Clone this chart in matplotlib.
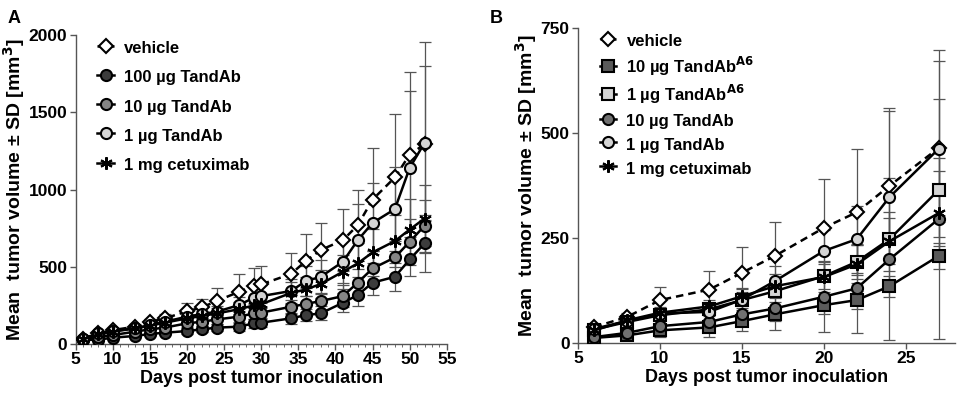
import matplotlib
matplotlib.use("Agg")
import matplotlib.pyplot as plt
from matplotlib.ticker import MultipleLocator

plt.rcParams['font.family'] = ['Liberation Sans', 'DejaVu Sans']
plt.rcParams['font.weight'] = 'bold'

# ---- panel A data ----
days_a = [6, 8, 10, 13, 15, 17, 20, 22, 24, 27, 29, 30, 34, 36, 38, 41, 43, 45, 48, 50, 52]
veh_a = [34, 73, 90, 112, 142, 166, 211, 237, 278, 338, 375, 386, 453, 537, 608, 672, 769, 935, 1078, 1226, 1293]
veh_a_sd = [8, 12, 15, 18, 22, 30, 52, 54, 82, 112, 118, 118, 137, 172, 172, 199, 231, 334, 413, 535, 660]
tab100_a = [26, 28, 41, 52, 65, 73, 84, 95, 106, 112, 134, 138, 166, 187, 198, 267, 317, 397, 435, 547, 651]
tab100_a_sd = [5, 6, 8, 10, 12, 14, 18, 20, 22, 25, 28, 30, 35, 40, 45, 60, 70, 80, 90, 110, 183]
tab10_a = [30, 47, 58, 80, 95, 106, 134, 144, 159, 177, 198, 203, 241, 259, 278, 310, 397, 489, 560, 662, 765]
tab10_a_sd = [6, 8, 10, 12, 15, 18, 22, 25, 28, 32, 36, 38, 45, 50, 55, 70, 90, 110, 120, 150, 170]
tab1_a = [34, 69, 84, 101, 123, 144, 177, 194, 209, 252, 300, 310, 343, 407, 435, 532, 672, 784, 873, 1140, 1302]
tab1_a_sd = [7, 10, 14, 17, 20, 25, 32, 36, 40, 55, 70, 75, 80, 95, 110, 140, 237, 259, 273, 500, 500]
cet_a = [30, 62, 80, 101, 118, 138, 166, 181, 198, 225, 250, 258, 330, 353, 388, 468, 522, 593, 666, 741, 812]
cet_a_sd = [6, 9, 12, 15, 18, 22, 28, 32, 36, 45, 55, 60, 70, 80, 90, 110, 130, 150, 170, 200, 220]

# ---- panel B data ----
days_b = [6, 8, 10, 13, 15, 17, 20, 22, 24, 27]
veh_b = [38, 62, 102, 127, 167, 207, 274, 311, 374, 464]
veh_b_sd = [5, 10, 32, 44, 61, 82, 116, 150, 185, 233]
a6_10_b = [12, 18, 30, 37, 52, 68, 90, 102, 135, 207]
a6_10_b_sd = [3, 5, 8, 10, 12, 15, 20, 22, 25, 30]
a6_1_b = [32, 50, 66, 80, 102, 123, 159, 193, 247, 364]
a6_1_b_sd = [5, 8, 12, 15, 20, 25, 30, 40, 50, 76]
tab10_b = [14, 24, 40, 50, 68, 82, 110, 130, 199, 295]
tab10_b_sd = [4, 8, 25, 35, 40, 52, 85, 106, 193, 285]
tab1_b = [34, 52, 70, 74, 103, 147, 219, 247, 347, 462]
tab1_b_sd = [5, 10, 15, 18, 25, 35, 50, 80, 205, 210]
cet_b = [30, 54, 72, 87, 111, 135, 157, 187, 242, 309]
cet_b_sd = [5, 8, 12, 15, 20, 28, 35, 45, 70, 100]

fig = plt.figure(figsize=(9.65, 4.03), dpi=100)
ax_a = fig.add_axes([0.0785, 0.1464, 0.3845, 0.7667])
ax_b = fig.add_axes([0.599, 0.149, 0.3907, 0.782])

err_kw = dict(ecolor='#555555', elinewidth=0.9, capsize=4, capthick=0.9)


def series(ax, x, y, sd, label, marker, face, ls='-', ms=8):
    ax.errorbar(x, y, yerr=sd, fmt='none', zorder=1, **err_kw)
    ax.plot(x, y, ls=ls, color='black', lw=1.8, marker=marker, ms=ms,
            mfc=face, mec='black', mew=1.5, label=label, zorder=3)


series(ax_a, days_a, veh_a, veh_a_sd, 'vehicle', 'D', 'white', ls=(0, (3, 2)), ms=7)
series(ax_a, days_a, tab100_a, tab100_a_sd, '100 µg TandAb', 'o', '#3c3c3c')
series(ax_a, days_a, tab10_a, tab10_a_sd, '10 µg TandAb', 'o', '#858585')
series(ax_a, days_a, tab1_a, tab1_a_sd, '1 µg TandAb', 'o', '#d4d4d4')
series(ax_a, days_a, cet_a, cet_a_sd, '1 mg cetuximab', (6, 2, 0), 'black', ms=9)

series(ax_b, days_b, veh_b, veh_b_sd, 'vehicle', 'D', 'white', ls=(0, (3, 2)), ms=7)
series(ax_b, days_b, a6_10_b, a6_10_b_sd, '10 µg TandAb$^{\\mathbf{A6}}$', 's', '#5a5a5a')
series(ax_b, days_b, a6_1_b, a6_1_b_sd, '1 µg TandAb$^{\\mathbf{A6}}$', 's', '#d4d4d4')
series(ax_b, days_b, tab10_b, tab10_b_sd, '10 µg TandAb', 'o', '#707070')
series(ax_b, days_b, tab1_b, tab1_b_sd, '1 µg TandAb', 'o', '#d4d4d4')
series(ax_b, days_b, cet_b, cet_b_sd, '1 mg cetuximab', (6, 2, 0), 'black', ms=9)

for ax in (ax_a, ax_b):
    for s in ('top', 'right'):
        ax.spines[s].set_visible(False)
    for s in ('left', 'bottom'):
        ax.spines[s].set_color('#555555')
        ax.spines[s].set_linewidth(1.0)
    ax.tick_params(direction='out', colors='#555555', labelcolor='black',
                   labelsize=12.5, length=4, width=1.0, pad=2)
    ax.set_xlabel('Days post tumor inoculation', fontsize=13, fontweight='bold', labelpad=2)
    ax.set_ylabel('Mean  tumor volume ± SD [mm$^{\\mathbf{3}}$]', fontsize=14,
                  fontweight='bold', labelpad=1)

ax_a.legend(loc='upper left', frameon=False, handlelength=1.0, handleheight=1.3,
            handletextpad=0.6, labelspacing=0.66, borderaxespad=0.0,
            bbox_to_anchor=(0.04, 1.01), prop={'weight': 'bold', 'size': 12})
ax_b.legend(loc='upper left', frameon=False, handlelength=1.0, handleheight=1.35,
            handletextpad=0.6, labelspacing=0.3, borderaxespad=0.0,
            bbox_to_anchor=(0.04, 1.01), prop={'weight': 'bold', 'size': 12})

ax_a.set_xlim(5, 55)
ax_a.set_ylim(0, 2000)
ax_a.xaxis.set_major_locator(MultipleLocator(5))
ax_a.xaxis.set_minor_locator(MultipleLocator(1))
ax_a.tick_params(axis='x', which='minor', length=2.5, color='#555555')
ax_a.yaxis.set_major_locator(MultipleLocator(500))

ax_b.set_xlim(5, 28)
ax_b.set_ylim(0, 750)
ax_b.xaxis.set_major_locator(MultipleLocator(5))
ax_b.yaxis.set_major_locator(MultipleLocator(250))

fig.text(0.008, 0.975, 'A', fontsize=13, fontweight='bold', va='top')
fig.text(0.508, 0.975, 'B', fontsize=13, fontweight='bold', va='top')

fig.savefig('out.png', dpi=100)
